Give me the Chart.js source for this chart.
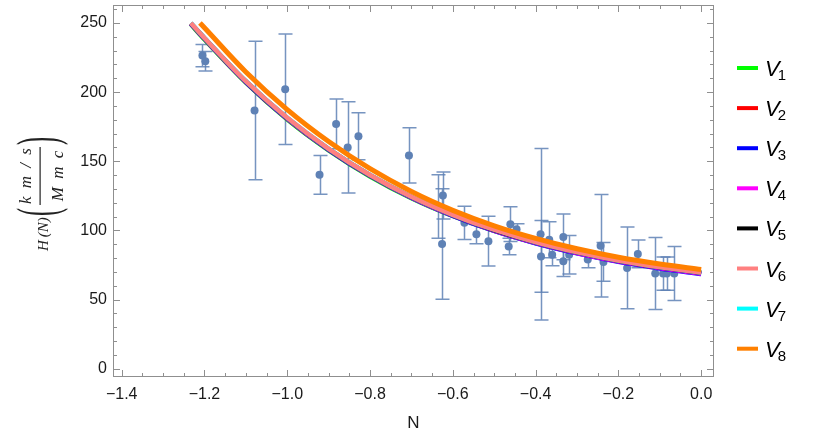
<!DOCTYPE html>
<html>
<head>
<meta charset="utf-8">
<title>H(N)</title>
<script src="https://cdn.jsdelivr.net/npm/chart.js@4.4.1/dist/chart.umd.min.js"></script>
<style>
  html, body { margin: 0; padding: 0; background: #fff; }
  canvas { display: block; }
</style>
</head>
<body>
<canvas id="hubble-chart" width="830" height="439"></canvas>
<script>
"use strict";

// observed H(N) with error bars
const obsN = [-1.205, -1.198, -1.079, -1.005, -0.922, -0.882, -0.854, -0.828, -0.706, -0.637,
  -0.624, -0.626, -0.572, -0.543, -0.514, -0.461, -0.446, -0.465, -0.388, -0.387,
  -0.367, -0.360, -0.333, -0.333, -0.319, -0.274, -0.243, -0.236, -0.179, -0.153,
  -0.111, -0.092, -0.083, -0.065];
const obsH = [226.4, 222.3, 186.7, 202.1, 140.2, 177.0, 160.0, 168.1, 154.2, 117.3,
  125.3, 90.2, 105.5, 97.3, 92.2, 104.5, 100.9, 88.4, 97.3, 81.2,
  93.2, 82.4, 95.3, 77.7, 82.4, 79.0, 88.9, 77.2, 72.9, 83.0,
  68.8, 68.8, 68.8, 68.8];
const obsErr = [8, 7, 50, 40, 14, 18, 33, 17, 20, 23,
  17, 40, 12, 7, 18, 12.6, 4, 6, 62, 26,
  13, 8, 16.5, 11, 14, 6, 37, 14, 29.5, 10,
  26, 12, 12, 19.5];

// model curves V1..V7 share the same N samples
const curveN = [-1.233, -1.2, -1.1, -1.0, -0.9, -0.8, -0.7, -0.6, -0.5, -0.4, -0.3, -0.2, -0.1, 0];
const v1 = [249.0, 238.0, 206.8, 180.2, 157.9, 139.0, 123.3, 110.4, 99.7, 90.9, 83.7, 77.7, 72.9, 69.0];
const v2 = [249.5, 238.6, 207.3, 180.8, 158.4, 139.6, 123.8, 110.8, 100.0, 91.2, 83.9, 77.9, 73.1, 69.2];
const v3 = [249.5, 238.6, 207.3, 180.8, 158.3, 139.4, 123.6, 110.5, 99.6, 90.7, 83.4, 77.3, 72.5, 68.5];
const v4 = [249.7, 238.8, 207.5, 181.0, 158.6, 139.7, 123.9, 110.8, 99.9, 91.0, 83.7, 77.6, 72.8, 68.8];
const v5 = [249.8, 239.0, 207.7, 181.2, 158.8, 139.9, 124.1, 111.1, 100.3, 91.4, 84.1, 78.1, 73.3, 69.4];
const v6 = [250.0, 239.2, 207.9, 181.4, 159.0, 140.1, 124.3, 111.3, 100.5, 91.6, 84.3, 78.3, 73.5, 69.6];
const v7 = [250.0, 239.2, 207.9, 181.4, 159.0, 140.1, 124.3, 111.3, 100.5, 91.6, 84.3, 78.3, 73.5, 69.6];
// V8 sits a little higher and starts later
const v8N = [-1.211, -1.2, -1.1, -1.0, -0.9, -0.8, -0.7, -0.6, -0.5, -0.4, -0.3, -0.2, -0.1, 0];
const v8 = [250.0, 246.5, 214.6, 187.4, 164.3, 144.6, 128.1, 114.5, 103.3, 94.2, 86.7, 80.6, 75.7, 71.7];

const curveColors = ["#00ff00", "#ff0000", "#0000ff", "#ff00ff", "#000000", "#ff8080", "#00ffff", "#ff8000"];
const curveOrder = [10, 9, 8, 7, 6, 4, 5, 1];
const legendSubs = ["1", "2", "3", "4", "5", "6", "7", "8"];

const xTicks = [-1.4, -1.2, -1.0, -0.8, -0.6, -0.4, -0.2, 0.0];
const yTicks = [0, 50, 100, 150, 200, 250];
const xMinorStep = 0.05;
const yMinorStep = 10;

const POINT_COLOR = "#5e81b5";
const FRAME_COLOR = "#8f8f8f";
const TEXT_COLOR = "#1a1a1a";
const SANS = '"Liberation Sans", Arial, sans-serif';
const SERIF = '"Liberation Serif", "Times New Roman", serif';

function fmtX(v) {
  return v.toFixed(1).replace("-", "\u2212");
}

const errorBars = {
  id: "errorBars",
  beforeDatasetsDraw(chart) {
    const { ctx, chartArea, scales } = chart;
    ctx.save();
    ctx.beginPath();
    ctx.rect(chartArea.left, chartArea.top, chartArea.right - chartArea.left, chartArea.bottom - chartArea.top);
    ctx.clip();
    ctx.strokeStyle = "rgba(94,129,181,0.85)";
    ctx.lineWidth = 1.5;
    obsN.forEach((n, i) => {
      const px = Math.round(scales.x.getPixelForValue(n)) + 0.5;
      const top = scales.y.getPixelForValue(obsH[i] + obsErr[i]);
      const bot = scales.y.getPixelForValue(obsH[i] - obsErr[i]);
      ctx.beginPath();
      ctx.moveTo(px, top);
      ctx.lineTo(px, bot);
      ctx.moveTo(px - 7, top);
      ctx.lineTo(px + 7, top);
      ctx.moveTo(px - 7, bot);
      ctx.lineTo(px + 7, bot);
      ctx.stroke();
    });
    ctx.restore();
  },
};

const frameTicks = {
  id: "frameTicks",
  afterDatasetsDraw(chart) {
    const { ctx, chartArea: a, scales } = chart;
    ctx.save();
    ctx.strokeStyle = FRAME_COLOR;
    ctx.lineWidth = 1;
    ctx.strokeRect(Math.round(a.left) + 0.5, Math.round(a.top) + 0.5,
      Math.round(a.right - a.left) - 1, Math.round(a.bottom - a.top) - 1);
    ctx.beginPath();
    const nx = Math.round((xTicks[xTicks.length - 1] - xTicks[0]) / xMinorStep);
    for (let k = 0; k <= nx; k++) {
      const v = xTicks[0] + k * xMinorStep;
      const len = k % 4 === 0 ? 7 : 4;
      const px = Math.round(scales.x.getPixelForValue(v)) + 0.5;
      ctx.moveTo(px, a.bottom);
      ctx.lineTo(px, a.bottom - len);
      ctx.moveTo(px, a.top);
      ctx.lineTo(px, a.top + len);
    }
    const ny = Math.round((scales.y.max - yTicks[0]) / yMinorStep);
    for (let k = 0; k <= ny; k++) {
      const v = yTicks[0] + k * yMinorStep;
      if (v > scales.y.max) break;
      const len = k % 5 === 0 ? 7 : 4;
      const py = Math.round(scales.y.getPixelForValue(v)) + 0.5;
      ctx.moveTo(a.left, py);
      ctx.lineTo(a.left + len, py);
      ctx.moveTo(a.right, py);
      ctx.lineTo(a.right - len, py);
    }
    ctx.stroke();
    ctx.restore();
  },
};

const sideText = {
  id: "sideText",
  afterDraw(chart) {
    const { ctx } = chart;

    // legend
    ctx.save();
    ctx.fillStyle = "#000";
    curveColors.forEach((c, i) => {
      const y = 68 + i * 40.1;
      ctx.strokeStyle = c;
      ctx.lineWidth = 4;
      ctx.beginPath();
      ctx.moveTo(737, y);
      ctx.lineTo(758, y);
      ctx.stroke();
      ctx.font = "italic 22px " + SANS;
      ctx.textAlign = "left";
      ctx.textBaseline = "alphabetic";
      ctx.fillText("V", 765, y + 8);
      const w = ctx.measureText("V").width;
      ctx.font = "15px " + SANS;
      ctx.fillText(legendSubs[i], 765 + w - 2, y + 12);
    });
    ctx.restore();

    // y-axis label, rotated
    ctx.save();
    ctx.translate(43, 191);
    ctx.rotate(-Math.PI / 2);
    ctx.fillStyle = "#222";
    ctx.textBaseline = "alphabetic";
    ctx.font = "italic 15px " + SERIF;
    ctx.textAlign = "left";
    ctx.fillText("H\u2009(N)", -60, 5);
    ctx.font = "italic 17px " + SERIF;
    ctx.textAlign = "center";
    if ("letterSpacing" in ctx) ctx.letterSpacing = "2px";
    ctx.fillText("k m / s", 16, -12);
    ctx.fillText("M m c", 16, 20);
    if ("letterSpacing" in ctx) ctx.letterSpacing = "0px";
    ctx.fillRect(-14, -3.5, 58, 1.2);
    ctx.font = "58px " + SERIF;
    ctx.textAlign = "left";
    ctx.save();
    ctx.scale(0.42, 1);
    ctx.fillText("(", -25 / 0.42, 13);
    ctx.fillText(")", 46 / 0.42, 13);
    ctx.restore();
    ctx.restore();
  },
};

const curves = [v1, v2, v3, v4, v5, v6, v7].map((h, i) => ({
  label: "V" + legendSubs[i],
  data: curveN.map((n, k) => ({ x: n, y: h[k] })),
}));
curves.push({
  label: "V8",
  data: v8N.map((n, k) => ({ x: n, y: v8[k] })),
});

const datasets = [
  {
    label: "data",
    data: obsN.map((n, i) => ({ x: n, y: obsH[i] })),
    showLine: false,
    pointRadius: 4,
    pointBackgroundColor: POINT_COLOR,
    pointBorderWidth: 0,
    order: 20,
  },
].concat(
  curves.map((c, i) => ({
    label: c.label,
    data: c.data,
    showLine: true,
    borderColor: curveColors[i],
    borderWidth: i === 7 ? 5 : 4.5,
    pointRadius: 0,
    fill: false,
    cubicInterpolationMode: "monotone",
    order: curveOrder[i],
  }))
);

new Chart(document.getElementById("hubble-chart"), {
  type: "scatter",
  data: { datasets },
  options: {
    responsive: false,
    animation: false,
    devicePixelRatio: 1,
    layout: { autoPadding: false, padding: { left: 0, right: 116, top: 5, bottom: 0 } },
    plugins: { legend: { display: false }, tooltip: { enabled: false } },
    scales: {
      x: {
        type: "linear",
        min: -1.421,
        max: 0.031,
        afterFit(s) {
          s.height = 62;
          s.paddingLeft = 0;
          s.paddingRight = 0;
        },
        afterBuildTicks(s) { s.ticks = xTicks.map((v) => ({ value: v })); },
        grid: { display: false, drawTicks: false },
        border: { display: false },
        ticks: {
          autoSkip: false,
          maxRotation: 0,
          padding: 8,
          color: TEXT_COLOR,
          font: { family: SANS, size: 16 },
          callback: (v) => fmtX(v),
        },
        title: {
          display: true,
          text: "N",
          color: TEXT_COLOR,
          font: { family: SANS, size: 17 },
          padding: { top: 4, bottom: 5 },
        },
      },
      y: {
        type: "linear",
        min: -6,
        max: 263,
        afterFit(s) {
          s.width = 113;
          s.paddingTop = 0;
          s.paddingBottom = 0;
        },
        afterBuildTicks(s) { s.ticks = yTicks.map((v) => ({ value: v })); },
        grid: { display: false, drawTicks: false },
        border: { display: false },
        ticks: {
          autoSkip: false,
          padding: 6,
          color: TEXT_COLOR,
          font: { family: SANS, size: 16 },
          callback: (v) => String(v),
        },
      },
    },
  },
  plugins: [errorBars, frameTicks, sideText],
});
</script>
</body>
</html>
